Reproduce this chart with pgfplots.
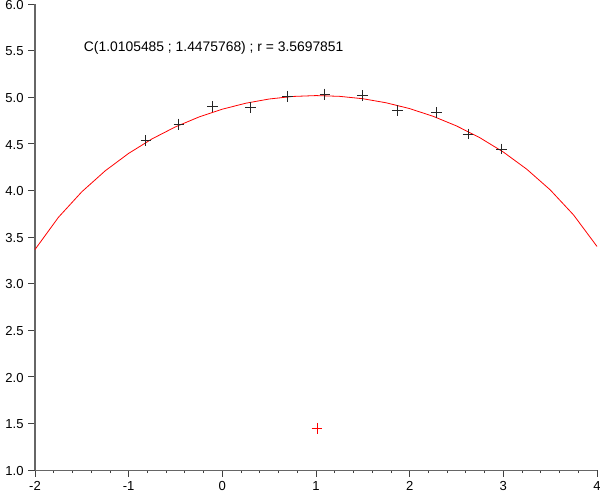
\documentclass[border=0pt]{standalone}
\usepackage{fontspec}
\setmainfont{Liberation Sans}
\usepackage{pgfplots}
\pgfplotsset{compat=1.18}
\begin{document}
\begin{tikzpicture}
\path[use as bounding box] (-26.25pt,-17.25pt) rectangle (423.75pt,352.5pt);
\begin{axis}[
  scale only axis,
  width=421.5pt, height=349.5pt,
  xmin=-2, xmax=4, ymin=1, ymax=6,
  axis x line*=bottom, axis y line*=left,
  axis line style={draw=black!60, line width=0.75pt},
  xtick={-2,-1,0,1,2,3,4},
  ytick={1,1.5,2,2.5,3,3.5,4,4.5,5,5.5,6},
  minor x tick num=4,
  tick align=outside,
  major tick length=5pt,
  minor tick length=2.4pt,
  tick style={draw=black!75, line width=0.6pt},
  /pgf/number format/assume math mode=true,
  ticklabel style={font=\fontsize{9.8}{12}\selectfont},
  yticklabel style={yshift=-0.6pt, /pgf/number format/fixed, /pgf/number format/fixed zerofill, /pgf/number format/precision=1},
  xticklabel style={/pgf/number format/fixed, /pgf/number format/precision=0},
  clip=false,
]
\addplot[red, line width=0.6pt] coordinates {
(-2.00,3.3659) (-1.75,3.7110) (-1.50,3.9855) (-1.25,4.2105) (-1.00,4.3974)
(-0.75,4.5531) (-0.50,4.6821) (-0.25,4.7874) (0.00,4.8714) (0.25,4.9354)
(0.50,4.9807) (0.75,5.0079) (1.00,5.0174) (1.25,5.0094) (1.50,4.9837)
(1.75,4.9400) (2.00,4.8775) (2.25,4.7953) (2.50,4.6918) (2.75,4.5649)
(3.00,4.4116) (3.25,4.2275) (3.50,4.0061) (3.75,3.7364) (4.00,3.3986)
};
\addplot[only marks, mark=+, mark size=4.1pt, mark options={draw=black!85, line width=0.75pt}] coordinates {
(-0.815,4.533) (-0.463,4.712) (-0.103,4.900) (0.303,4.890) (0.698,5.008)
(1.096,5.033) (1.494,5.018) (1.872,4.854) (2.288,4.836) (2.623,4.605) (2.982,4.444)
};
\addplot[only marks, mark=+, mark size=4.1pt, mark options={draw=red, line width=0.6pt}] coordinates {
(1.0105485,1.4475768)
};
\node[anchor=west, inner sep=0pt, font=\fontsize{10.4}{12}\selectfont] at (axis cs:-1.48,5.53) {C(1.0105485 ; 1.4475768) ; r = 3.5697851};
\end{axis}
\end{tikzpicture}
\end{document}
